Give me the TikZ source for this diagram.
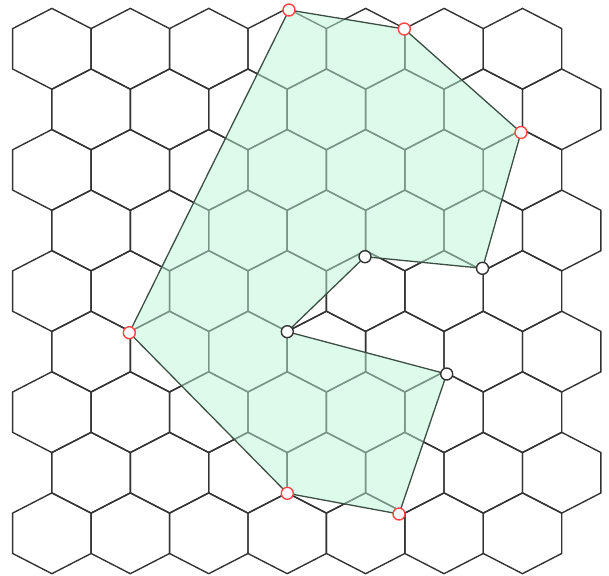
\documentclass[tikz,border=0pt]{standalone}
\usetikzlibrary{calc}
\definecolor{gridline}{RGB}{51,51,51}
\definecolor{polyfill}{RGB}{188,248,216}
\definecolor{polyedge}{RGB}{60,78,68}
\definecolor{hullred}{RGB}{255,70,70}
\tikzset{
  hexline/.style={draw=gridline, line width=1.4pt, line join=miter},
  polyshape/.style={fill=polyfill, fill opacity=0.5, draw=polyedge, draw opacity=1, line width=1.3pt, line join=round},
  hullpt/.style={circle, draw=hullred, fill=white, line width=1.4pt, minimum size=12pt, inner sep=0pt},
  innerpt/.style={circle, draw=gridline, fill=white, line width=1.4pt, minimum size=12pt, inner sep=0pt}
}
\begin{document}
\begin{tikzpicture}[x=1pt,y=-1pt]
\useasboundingbox (0,0) rectangle (609,575);
% hex grid
\foreach \r in {0,...,8}{
  \foreach \k in {0,...,6}{
    \pgfmathsetmacro{\cy}{48.8+\r*60.56}
    \pgfmathsetmacro{\cx}{(mod(\r,2)==0 ? 51.9 : 91.1)+\k*78.43}
    \draw[hexline] (\cx,\cy-40.4) -- (\cx+39.21,\cy-20.2) -- (\cx+39.21,\cy+20.2)
      -- (\cx,\cy+40.4) -- (\cx-39.21,\cy+20.2) -- (\cx-39.21,\cy-20.2) -- cycle;
  }
}
% polygon points
\coordinate (A) at (289,10);
\coordinate (B) at (404.3,29);
\coordinate (C) at (521,132.5);
\coordinate (D) at (482.5,268.3);
\coordinate (E) at (365,256.7);
\coordinate (F) at (287.3,331.7);
\coordinate (G) at (446.7,374);
\coordinate (H) at (399,514);
\coordinate (I) at (287.3,493.3);
\coordinate (J) at (129.3,332.7);
\draw[polyshape] (A) -- (B) -- (C) -- (D) -- (E) -- (F) -- (G) -- (H) -- (I) -- (J) -- cycle;
% vertex markers
\node[hullpt] (pA) at (A) {};
\node[hullpt] (pB) at (B) {};
\node[hullpt] (pC) at (C) {};
\node[innerpt] (pD) at (D) {};
\node[innerpt] (pE) at (E) {};
\node[innerpt] (pF) at (F) {};
\node[innerpt] (pG) at (G) {};
\node[hullpt] (pH) at (H) {};
\node[hullpt] (pI) at (I) {};
\node[hullpt] (pJ) at (J) {};
\end{tikzpicture}
\end{document}
